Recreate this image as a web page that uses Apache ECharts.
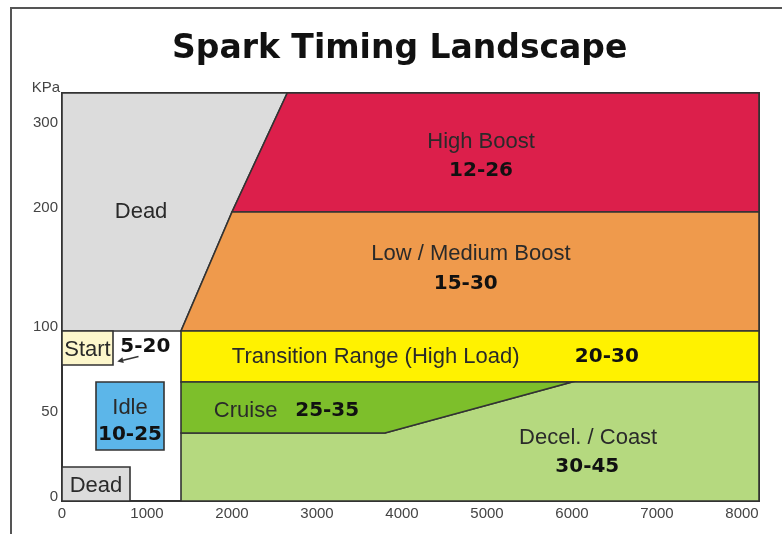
<!DOCTYPE html>
<html>
<head>
<meta charset="utf-8">
<script src="https://cdn.jsdelivr.net/npm/echarts@6/dist/echarts.min.js"></script>
<style>
  html, body { margin: 0; padding: 0; background: #fff; }
  #main { width: 782px; height: 534px; }
</style>
</head>
<body>
<div id="main"></div>
<script>
// axis ticks
const rpmTicks = [0, 1000, 2000, 3000, 4000, 5000, 6000, 7000, 8000];
const kpaTicks = [0, 50, 100, 200, 300];

// the pressure axis in the drawing is not linear, so map kPa onto axis units piecewise
const kpaStops = [0, 100, 200, 300, 340];
const unitStops = [0, 100, 170, 220, 240];

// regions, vertices as [rpm, kPa]
const deadUpper = [[0, 100], [1400, 100], [2000, 200], [2650, 340], [0, 340]];
const highBoost = [[2000, 200], [2650, 340], [8200, 340], [8200, 200]];
const lowMedBoost = [[1400, 100], [2000, 200], [8200, 200], [8200, 100]];
const transition = [[1400, 70], [1400, 100], [8200, 100], [8200, 70]];
const decelCoast = [[1400, 0], [8200, 0], [8200, 70], [6000, 70], [3800, 40], [1400, 40]];
const cruise = [[1400, 40], [3800, 40], [6000, 70], [1400, 70]];
const startBox = [[0, 80], [600, 80], [600, 100], [0, 100]];
const idleBox = [[400, 30], [1200, 30], [1200, 70], [400, 70]];
const deadLower = [[0, 0], [800, 0], [800, 20], [0, 20]];

const regions = [deadUpper, highBoost, lowMedBoost, transition, decelCoast, cruise, startBox, idleBox, deadLower];
const regionColors = ['#dcdcdc', '#dc1f4b', '#ef9a4c', '#fff200', '#b5d97f', '#7dbf2b', '#fdf7cc', '#5cb6e9', '#dcdcdc'];

// text labels
const labelText = ['Dead', 'High Boost', '12-26', 'Low / Medium Boost', '15-30',
  'Transition Range (High Load)', '20-30', 'Cruise', '25-35', 'Decel. / Coast', '30-45',
  'Start', '5-20', 'Idle', '10-25', 'Dead'];
const labelRpm = [930, 4930, 4930, 4810, 4750, 3690, 6410, 2160, 3120, 6190, 6180, 300, 980, 800, 800, 400];
const labelKpa = [200, 282, 248, 165, 140, 85, 85, 53, 53, 37, 20, 89, 91, 55, 39, 9];
const labelKind = ['name', 'name', 'range', 'name', 'range', 'name', 'range', 'name', 'range', 'name', 'range',
  'name', 'range', 'name', 'range', 'name'];

// arrow from "5-20" to the Start box
const arrowFrom = [900, 85];
const arrowTo = [650, 82];

function interp(v, from, to) {
  for (let i = 1; i < from.length; i++) {
    if (v <= from[i] || i === from.length - 1) {
      const t = (v - from[i - 1]) / (from[i] - from[i - 1]);
      return to[i - 1] + t * (to[i] - to[i - 1]);
    }
  }
  return to[0];
}
const toUnit = kpa => interp(kpa, kpaStops, unitStops);
const toKpa = u => interp(u, unitStops, kpaStops);

const chart = echarts.init(document.getElementById('main'));

chart.setOption({
  animation: false,
  title: {
    text: 'Spark Timing Landscape',
    left: 167,
    top: 28,
    textStyle: {
      fontFamily: 'DejaVu Sans',
      fontWeight: 'bold',
      fontSize: 33,
      color: '#111'
    }
  },
  graphic: [
    { type: 'line', shape: { x1: 11, y1: 8, x2: 11, y2: 534 }, style: { stroke: '#555', lineWidth: 2 } },
    { type: 'line', shape: { x1: 10, y1: 8, x2: 782, y2: 8 }, style: { stroke: '#555', lineWidth: 2 } }
  ],
  grid: {
    left: 62,
    right: 23,
    top: 93,
    bottom: 33,
    show: true,
    backgroundColor: '#fff',
    borderColor: '#333',
    borderWidth: 2
  },
  xAxis: {
    type: 'value',
    min: 0,
    max: 8200,
    axisLine: { show: false },
    axisTick: { show: false },
    splitLine: { show: false },
    axisLabel: {
      customValues: rpmTicks,
      formatter: v => String(v),
      fontFamily: 'Liberation Sans',
      fontSize: 15,
      color: '#444',
      margin: 5
    }
  },
  yAxis: {
    type: 'value',
    min: 0,
    max: unitStops[unitStops.length - 1],
    name: 'KPa',
    nameLocation: 'end',
    nameGap: 5,
    nameTextStyle: {
      fontFamily: 'Liberation Sans',
      fontSize: 15,
      color: '#444',
      align: 'right',
      verticalAlign: 'middle',
      padding: [0, 2, 0, 0]
    },
    axisLine: { show: false },
    axisTick: { show: false },
    splitLine: { show: false },
    axisLabel: {
      customValues: kpaTicks.map(toUnit),
      formatter: v => String(Math.round(toKpa(v))),
      fontFamily: 'Liberation Sans',
      fontSize: 15,
      color: '#444',
      margin: 4,
      verticalAlign: 'bottom',
      lineHeight: 8
    }
  },
  series: [
    {
      type: 'custom',
      name: 'regions',
      data: regions.map(r => [r[0][0], toUnit(r[0][1])]),
      renderItem(params, api) {
        const pts = regions[params.dataIndex].map(p => api.coord([p[0], toUnit(p[1])]));
        return {
          type: 'polygon',
          shape: { points: pts },
          style: {
            fill: regionColors[params.dataIndex],
            stroke: '#333',
            lineWidth: 1.6
          }
        };
      }
    },
    {
      type: 'custom',
      name: 'arrow',
      data: [[arrowFrom[0], toUnit(arrowFrom[1])]],
      renderItem(params, api) {
        const a = api.coord([arrowFrom[0], toUnit(arrowFrom[1])]);
        const b = api.coord([arrowTo[0], toUnit(arrowTo[1])]);
        const ang = Math.atan2(b[1] - a[1], b[0] - a[0]);
        const len = 6, w = 3;
        const bx = b[0] - len * Math.cos(ang), by = b[1] - len * Math.sin(ang);
        return {
          type: 'group',
          children: [
            { type: 'line', shape: { x1: a[0], y1: a[1], x2: bx, y2: by }, style: { stroke: '#333', lineWidth: 1.4 } },
            {
              type: 'polygon',
              shape: {
                points: [
                  b,
                  [bx + w * Math.sin(ang), by - w * Math.cos(ang)],
                  [bx - w * Math.sin(ang), by + w * Math.cos(ang)]
                ]
              },
              style: { fill: '#333' }
            }
          ]
        };
      }
    },
    {
      type: 'custom',
      name: 'labels',
      data: labelRpm.map((x, i) => [x, toUnit(labelKpa[i])]),
      renderItem(params, api) {
        const i = params.dataIndex;
        const pt = api.coord([labelRpm[i], toUnit(labelKpa[i])]);
        const isRange = labelKind[i] === 'range';
        return {
          type: 'text',
          x: pt[0],
          y: pt[1],
          style: {
            text: labelText[i],
            fill: isRange ? '#111' : '#2a2a2a',
            fontFamily: isRange ? 'DejaVu Sans' : 'Liberation Sans',
            fontWeight: isRange ? 'bold' : 'normal',
            fontSize: isRange ? 20 : 22,
            align: 'center',
            verticalAlign: 'middle'
          }
        };
      }
    }
  ]
});
</script>
</body>
</html>
